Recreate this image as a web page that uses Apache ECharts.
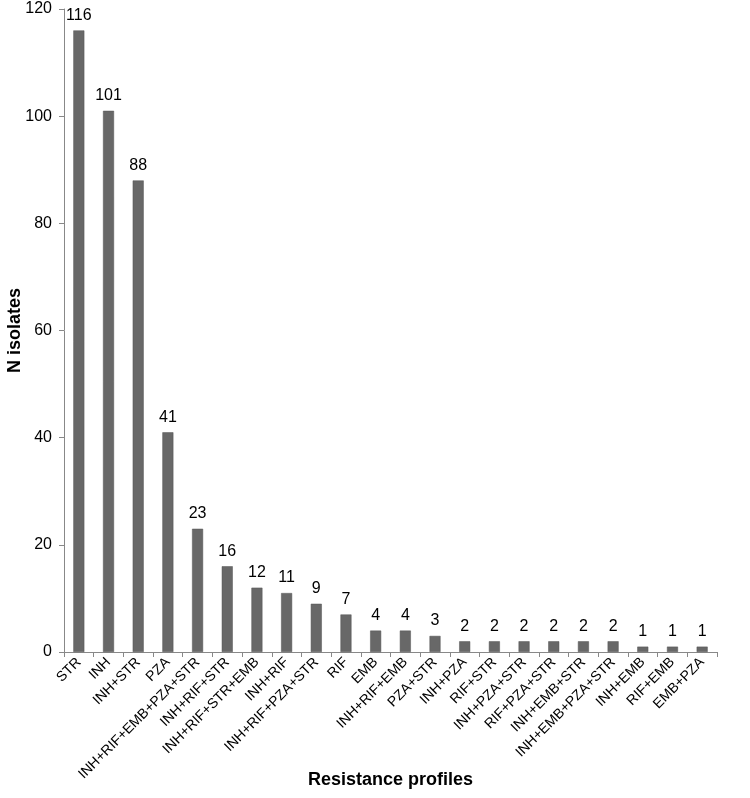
<!DOCTYPE html>
<html><head><meta charset="utf-8">
<script src="https://cdn.jsdelivr.net/npm/echarts@6/dist/echarts.min.js"></script>
<style>html,body{margin:0;padding:0;background:#fff}#c{width:750px;height:798px}</style>
</head><body><div id="c"></div>
<script>
const categories = ["STR","INH","INH+STR","PZA","INH+RIF+EMB+PZA+STR","INH+RIF+STR","INH+RIF+STR+EMB","INH+RIF","INH+RIF+PZA+STR","RIF","EMB","INH+RIF+EMB","PZA+STR","INH+PZA","RIF+STR","INH+PZA+STR","RIF+PZA+STR","INH+EMB+STR","INH+EMB+PZA+STR","INH+EMB","RIF+EMB","EMB+PZA"];
const values = [116,101,88,41,23,16,12,11,9,7,4,4,3,2,2,2,2,2,2,1,1,1];
const yTicks = [0,20,40,60,80,100,120];
const chart = echarts.init(document.getElementById('c'));
chart.setOption({
  animation:false,
  grid:{left:64,right:33,top:9,bottom:146,containLabel:false,outerBoundsMode:'none'},
  xAxis:{type:'category',data:categories,
    name:'Resistance profiles',nameLocation:'middle',nameGap:119,nameMoveOverlap:false,
    nameTextStyle:{fontFamily:'Liberation Sans',fontWeight:'bold',fontSize:18,color:'#000'},
    axisLine:{lineStyle:{color:'#888',width:1}},
    axisTick:{show:true,alignWithLabel:false,length:5,lineStyle:{color:'#888'}},
    axisLabel:{rotate:45,interval:0,fontFamily:'Liberation Sans',fontSize:14,color:'#000',margin:8}
  },
  yAxis:{type:'value',min:0,max:120,interval:20,
    name:'N isolates',nameLocation:'middle',nameGap:40,nameRotate:90,nameMoveOverlap:false,
    nameTextStyle:{fontFamily:'Liberation Sans',fontWeight:'bold',fontSize:18,color:'#000'},
    axisLine:{show:true,lineStyle:{color:'#888'}},
    axisTick:{show:true,length:5,lineStyle:{color:'#888'}},
    splitLine:{show:false},
    axisLabel:{fontFamily:'Liberation Sans',fontSize:16,color:'#000',margin:12,
      formatter:v=>yTicks.includes(v)?String(v):''}
  },
  series:[{type:'bar',data:values,barWidth:11,
    itemStyle:{color:'#686868',borderColor:'#555',borderWidth:0.5},
    label:{show:true,position:'top',fontFamily:'Liberation Sans',fontSize:16,color:'#000',distance:7}
  }]
});
</script></body></html>
